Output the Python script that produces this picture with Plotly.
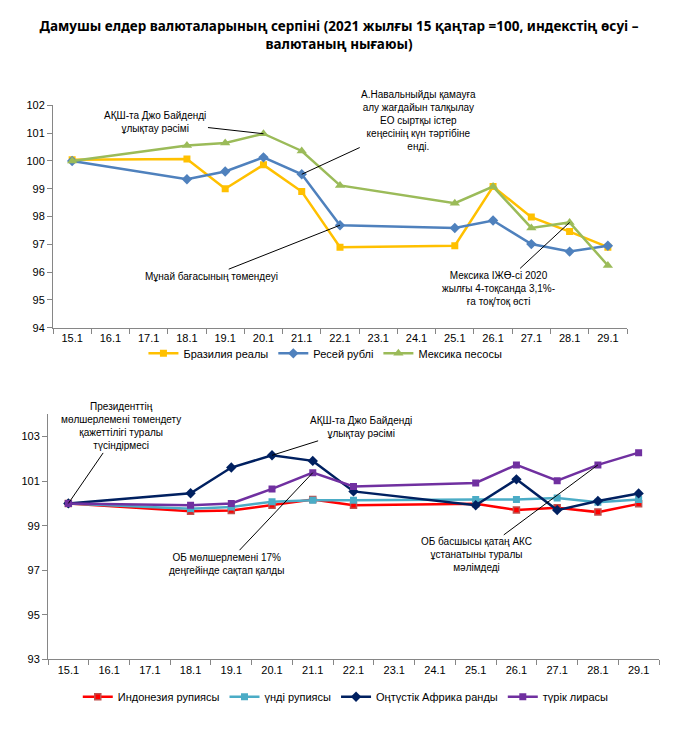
import plotly.graph_objects as go

dates = ["15.1", "16.1", "17.1", "18.1", "19.1", "20.1", "21.1", "22.1",
         "23.1", "24.1", "25.1", "26.1", "27.1", "28.1", "29.1"]

brazil = [100.04, None, None, 100.07, 99.0, 99.86, 98.9, 96.9, None, None, 96.95, 99.08, 97.98, 97.46, 96.9]
russia = [100.0, None, None, 99.34, 99.62, 100.13, 99.52, 97.69, None, None, 97.59, 97.86, 97.01, 96.74, 96.95]
mexico = [100.0, None, None, 100.56, 100.65, 100.98, 100.36, 99.12, None, None, 98.48, 99.08, 97.59, 97.79, 96.24]

indonesia = [100.0, None, None, 99.65, 99.68, 99.92, 100.18, 99.92, None, None, 99.99, 99.70, 99.81, 99.61, 99.98]
india = [100.0, None, None, 99.76, 99.84, 100.08, 100.14, 100.14, None, None, 100.18, 100.18, 100.24, 100.05, 100.18]
s_africa = [100.0, None, None, 100.46, 101.61, 102.16, 101.91, 100.54, None, None, 99.92, 101.08, 99.70, 100.11, 100.45]
turkey = [100.0, None, None, 99.92, 100.0, 100.65, 101.38, 100.76, None, None, 100.92, 101.73, 101.02, 101.73, 102.28]

top_names = ["Бразилия реалы", "Ресей рублі", "Мексика песосы"]
bottom_names = ["Индонезия рупиясы", "үнді рупиясы", "Оңтүстік Африка ранды", "түрік лирасы"]

title = "Дамушы елдер валюталарының серпіні (2021 жылғы 15 қаңтар =100, индекстің өсуі –<br>валютаның нығаюы)"

FONT = "Liberation Sans"
fig = go.Figure()

def add(y, name, color, symbol, xa, ya, leg, msize=7, mline=None):
    marker = dict(symbol=symbol, size=msize, color=color)
    if mline:
        marker["line"] = dict(color=mline, width=1.5)
    fig.add_trace(go.Scatter(x=dates, y=y, name=name, mode="lines+markers",
                             connectgaps=True, line=dict(color=color, width=2.5),
                             marker=marker, xaxis=xa, yaxis=ya, legend=leg))

add(brazil, top_names[0], "#FFC000", "square", "x", "y", "legend")
add(russia, top_names[1], "#4F81BD", "diamond", "x", "y", "legend", msize=8)
add(mexico, top_names[2], "#9BBB59", "triangle-up", "x", "y", "legend", msize=9)

add(indonesia, bottom_names[0], "#FF0000", "square", "x2", "y2", "legend2", msize=6, mline="#C0504D")
add(india, bottom_names[1], "#4BACC6", "square", "x2", "y2", "legend2")
add(s_africa, bottom_names[2], "#002060", "diamond", "x2", "y2", "legend2", msize=8)
add(turkey, bottom_names[3], "#7030A0", "square", "x2", "y2", "legend2")

W, H = 678, 747
def fx(a, b):
    return [a / W, b / W]
def fy(top, bottom):
    return [1 - bottom / H, 1 - top / H]

axis_common = dict(showline=True, linecolor="#868686", linewidth=1, ticks="outside",
                   tickcolor="#868686", ticklen=5, showgrid=False, zeroline=False,
                   tickfont=dict(family=FONT, size=11, color="black"))
xr = [-0.5, len(dates) - 0.5]

fig.update_layout(
    width=W, height=H,
    margin=dict(l=0, r=0, t=0, b=0),
    paper_bgcolor="white", plot_bgcolor="white",
    font=dict(family=FONT, size=11, color="black"),
    title=dict(text=title, x=0.5, xanchor="center", y=1 - 31 / H, yanchor="middle",
               font=dict(family="Noto Sans", size=13.5, color="black", weight="bold")),
    xaxis=dict(domain=fx(53, 627), type="category", categoryorder="array",
               categoryarray=dates, tickson="boundaries", anchor="y", range=xr,
               autorange=False, tickangle=0, **axis_common),
    yaxis=dict(domain=fy(101, 327), range=[94, 102], dtick=1, anchor="x",
               autorange=False, **axis_common),
    xaxis2=dict(domain=fx(48, 659), type="category", categoryorder="array",
                categoryarray=dates, tickson="boundaries", anchor="y2", range=xr,
                autorange=False, tickangle=0, **axis_common),
    yaxis2=dict(domain=fy(415, 664), range=[93, 104], tick0=93, dtick=2, anchor="x2",
                autorange=False, **axis_common),
    legend=dict(orientation="h", x=0.48, xanchor="center", y=1 - 353 / H, yanchor="middle",
                font=dict(family=FONT, size=11), itemwidth=30, tracegroupgap=0,
                bgcolor="rgba(0,0,0,0)"),
    legend2=dict(orientation="h", x=0.51, xanchor="center", y=1 - 702 / H, yanchor="middle",
                 font=dict(family=FONT, size=11), itemwidth=30,
                 bgcolor="rgba(0,0,0,0)"),
    showlegend=True,
)

ann_font = dict(family=FONT, size=10, color="black")
def note(text, xa, ya, cat, series, ax, ay):
    i = dates.index(cat)
    fig.add_annotation(text=text, xref=xa, yref=ya, x=i, y=series[i], ax=ax, ay=ay,
                       showarrow=True, arrowhead=0, arrowwidth=1, arrowcolor="black",
                       font=ann_font, align="center", standoff=0)

note("АҚШ-та Джо Байденді<br>ұлықтау рәсімі", "x", "y", "20.1", mexico, -108, -12)
note("А.Навальныйды қамауға<br>алу жағдайын талқылау<br>ЕО сыртқы істер<br>кеңесінің күн тәртібіне<br>енді.",
     "x", "y", "21.1", russia, 117, -54)
note("Мұнай бағасының төмендеуі", "x", "y", "22.1", russia, -129, 51)
note("Мексика ІЖӨ-сі 2020<br>жылғы 4-тоқсанда 3,1%-<br>ға тоқ/тоқ өсті", "x", "y", "28.1", mexico, -71, 66)

note("Президенттің<br>мөлшерлемені төмендету<br>қажеттілігі туралы<br>түсіндірмесі", "x2", "y2", "15.1", s_africa, 53, -77)
note("АҚШ-та Джо Байденді<br>ұлықтау рәсімі", "x2", "y2", "20.1", s_africa, 89, -28)
note("ОБ мөлшерлемені 17%<br>деңгейінде сақтап қалды", "x2", "y2", "21.1", turkey, -86, 91)
note("ОБ басшысы қатаң АКС<br>ұстанатыны туралы<br>мәлімдеді", "x2", "y2", "28.1", turkey, -121, 90)

fig.write_html("out.html", config={"displayModeBar": False},
               post_script="document.body.style.margin='0';")
